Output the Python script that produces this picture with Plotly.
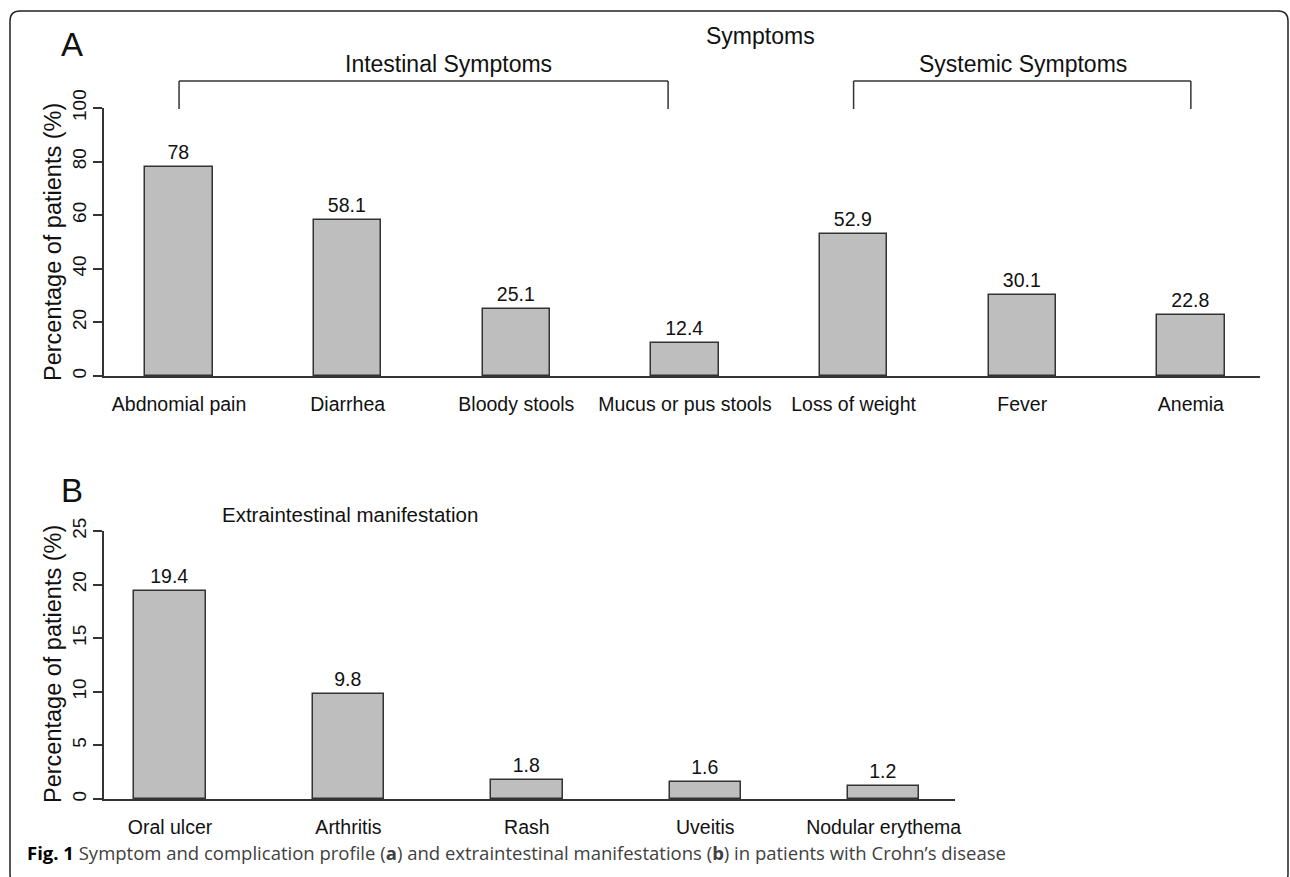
import plotly.graph_objects as go

# ---------------- data ----------------
symptom_labels = ["Abdnomial pain", "Diarrhea", "Bloody stools", "Mucus or pus stools",
                  "Loss of weight", "Fever", "Anemia"]
symptom_values = [78, 58.1, 25.1, 12.4, 52.9, 30.1, 22.8]

extra_labels = ["Oral ulcer", "Arthritis", "Rash", "Uveitis", "Nodular erythema"]
extra_values = [19.4, 9.8, 1.8, 1.6, 1.2]

yticks_a = [0, 20, 40, 60, 80, 100]
yticks_b = [0, 5, 10, 15, 20, 25]

# ---------------- layout helpers ----------------
W, H = 1290, 877
def px(x):
    return x / W
def py(y):
    return 1 - y / H

FONT = "Liberation Sans, Arial, Helvetica, sans-serif"
LINE = "#333333"
BAR = "#bebebe"

fig = go.Figure()

fig.add_trace(go.Bar(
    x=list(range(len(symptom_values))), y=symptom_values,
    width=0.4,
    marker=dict(color=BAR, line=dict(color=LINE, width=1.5)),
    text=[f"{v:g}" for v in symptom_values], textposition="outside",
    textfont=dict(family=FONT, size=19.5, color="#111111"),
    constraintext="none", cliponaxis=False,
    xaxis="x", yaxis="y", showlegend=False, hoverinfo="x+y",
))

fig.add_trace(go.Bar(
    x=list(range(len(extra_values))), y=extra_values,
    width=0.4,
    marker=dict(color=BAR, line=dict(color=LINE, width=1.5)),
    text=[f"{v:g}" for v in extra_values], textposition="outside",
    textfont=dict(family=FONT, size=19.5, color="#111111"),
    constraintext="none", cliponaxis=False,
    xaxis="x2", yaxis="y2", showlegend=False, hoverinfo="x+y",
))

xcommon = dict(showline=True, linecolor=LINE, linewidth=1.5, ticks="",
               showgrid=False, zeroline=False, tickmode="array", automargin=False,
               tickfont=dict(family=FONT, size=19.5, color="#111111"),
               ticklabelstandoff=10)
ycommon = dict(showline=True, linecolor=LINE, linewidth=1.5, ticks="outside",
               ticklen=9, tickwidth=1.5, tickcolor=LINE, showgrid=False,
               zeroline=False, tickmode="array", tickangle=-90, automargin=False,
               tickfont=dict(family=FONT, size=19, color="#111111"),
               ticklabelstandoff=0)

fig.update_layout(
    template="none",
    width=W, height=H,
    margin=dict(l=0, r=0, t=0, b=0, pad=0, autoexpand=False),
    paper_bgcolor="white", plot_bgcolor="white",
    font=dict(family=FONT, color="#111111"),
    bargap=0,
    xaxis=dict(domain=[px(104), px(1260)], range=[-0.445, 6.41],
               tickvals=list(range(len(symptom_labels))), ticktext=symptom_labels,
               anchor="y", **xcommon),
    yaxis=dict(domain=[py(376), py(108)], range=[0, 100],
               tickvals=yticks_a, ticktext=[str(t) for t in yticks_a],
               anchor="x", **ycommon),
    xaxis2=dict(domain=[px(104), px(955)], range=[-0.37, 4.40],
                tickvals=list(range(len(extra_labels))), ticktext=extra_labels,
                anchor="y2", **xcommon),
    yaxis2=dict(domain=[py(799), py(531)], range=[0, 25],
                tickvals=yticks_b, ticktext=[str(t) for t in yticks_b],
                anchor="x2", **ycommon),
)

# ---------------- brackets over symptom groups ----------------
bracket_top, bracket_bot = py(81), py(109)
for x0, x1 in [(0, 2.9), (4, 6)]:
    for xs, ys0, xs1, ys1 in [(x0, bracket_bot, x0, bracket_top),
                              (x0, bracket_top, x1, bracket_top),
                              (x1, bracket_top, x1, bracket_bot)]:
        fig.add_shape(type="line", xref="x", yref="paper",
                      x0=xs, y0=ys0, x1=xs1, y1=ys1,
                      line=dict(color=LINE, width=1.5))

# ---------------- rounded frame ----------------
fx0, fx1, fy0, fy1, r = 10, 1288, 11, 884, 10
path = (f"M {px(fx0 + r)},{py(fy0)} L {px(fx1 - r)},{py(fy0)} "
        f"Q {px(fx1)},{py(fy0)} {px(fx1)},{py(fy0 + r)} "
        f"L {px(fx1)},{py(fy1 - r)} Q {px(fx1)},{py(fy1)} {px(fx1 - r)},{py(fy1)} "
        f"L {px(fx0 + r)},{py(fy1)} Q {px(fx0)},{py(fy1)} {px(fx0)},{py(fy1 - r)} "
        f"L {px(fx0)},{py(fy0 + r)} Q {px(fx0)},{py(fy0)} {px(fx0 + r)},{py(fy0)} Z")
fig.add_shape(type="path", xref="paper", yref="paper", path=path,
              line=dict(color="#222222", width=1.5), fillcolor="rgba(0,0,0,0)")

# ---------------- text annotations ----------------
def ann(text, x, y, size, xanchor="center", angle=0, family=FONT, color="#111111"):
    fig.add_annotation(text=text, x=px(x), y=py(y), xref="paper", yref="paper",
                       xanchor=xanchor, yanchor="middle", showarrow=False,
                       textangle=angle, font=dict(family=family, size=size, color=color))

ann("A", 72, 45, 33)
ann("B", 72, 490, 33)
ann("Symptoms", 760, 36, 23)
ann("Intestinal Symptoms", 449, 64, 23)
ann("Systemic Symptoms", 1023, 64, 23)
ann("Extraintestinal manifestation", 350, 514, 20.5)
ann("Percentage of patients (%)", 53, 242, 23.5, angle=-90)
ann("Percentage of patients (%)", 53, 664, 23.5, angle=-90)
ann("<span style='color:#000000'><b>Fig. 1</b></span> Symptom and complication profile (<b>a</b>) "
    "and extraintestinal manifestations (<b>b</b>) in patients with Crohn\u2019s disease",
    25, 852, 18.5, xanchor="left", family="Open Sans, Noto Sans, sans-serif", color="#404040")

fig.write_html("out.html", config={"displayModeBar": False},
               post_script="document.body.style.margin='0';document.body.style.overflow='hidden';")
